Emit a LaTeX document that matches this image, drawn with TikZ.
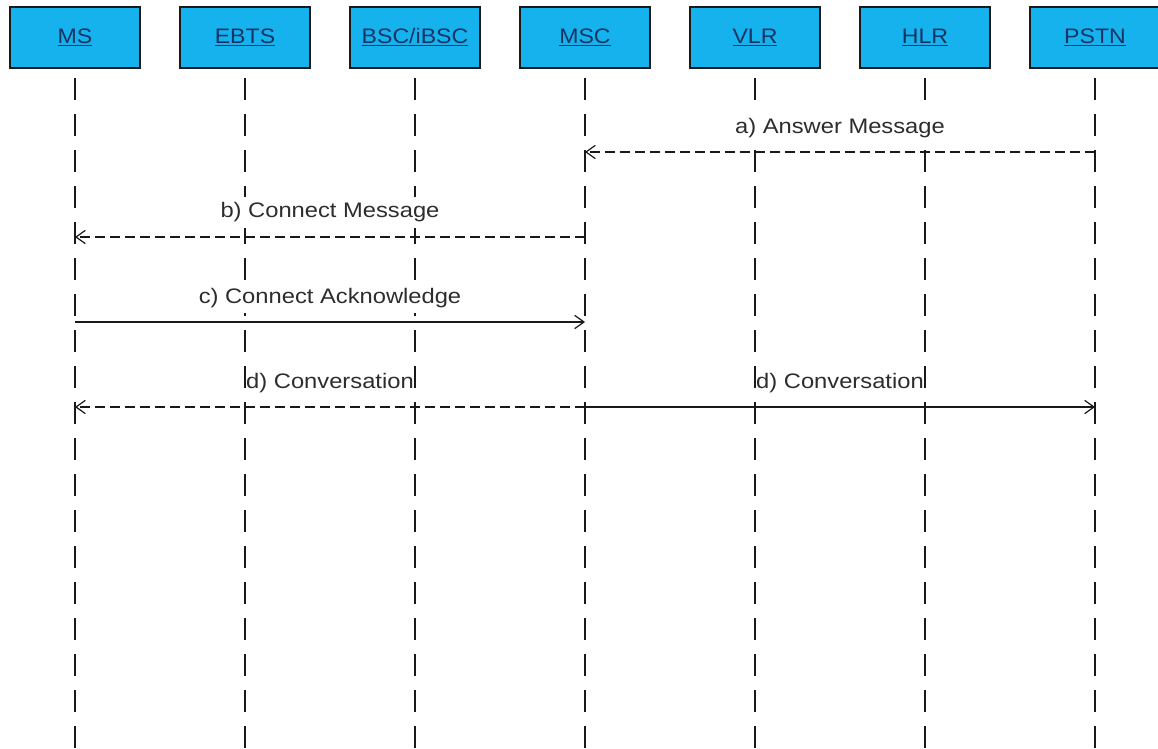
\documentclass[tikz,border=0pt]{standalone}
\usepackage{fontspec}
\usetikzlibrary{arrows.meta}
\newfontfamily\headfont{Liberation Sans}[FakeStretch=1.1]
\newfontfamily\msgfont{Liberation Sans}[FakeStretch=1.13]
\definecolor{headfill}{RGB}{22,178,238}
\definecolor{headtext}{RGB}{24,52,100}
\definecolor{msgtext}{RGB}{45,45,45}
\definecolor{lifeink}{RGB}{25,25,25}
\tikzset{
  actor/.style={draw=black!90, line width=1.8pt, fill=headfill,
    minimum width=97.5pt, minimum height=45.75pt, inner sep=0pt,
    font=\headfont\fontsize{15.75}{18}\selectfont, text=headtext},
  lifeline/.style={draw=lifeink, line width=1.6pt, dash pattern=on 16.5pt off 10.5pt},
  msg/.style={draw=lifeink, line width=0.95pt, -{Straight Barb[length=7pt,width=10pt,line width=0.9pt]}},
  reply/.style={msg, dash pattern=on 7.5pt off 3.75pt},
  msglabel/.style={anchor=base, fill=white, inner xsep=0pt, inner ysep=4.5pt,
    text=msgtext, yshift=14.25pt,
    font=\msgfont\fontsize{15.75}{18}\selectfont}
}
\begin{document}
\begin{tikzpicture}[x=0.75pt,y=-0.75pt]
\useasboundingbox (0,0) rectangle (1158,749);
% participants with their lifelines
\foreach \name/\lbl [count=\i from 0] in {MS/MS,EBTS/EBTS,BSC/{BSC/iBSC},MSC/MSC,VLR/VLR,HLR/HLR,PSTN/PSTN}{
  \node[actor] (\name) at (75+170*\i,37.5) {\underline{\lbl}};
  \coordinate (\name-top) at (75+170*\i,78);
  \coordinate (\name-bot) at (75+170*\i,749);
  \draw[lifeline] (\name-top) -- (\name-bot);
  \foreach \r/\yy in {a/152,b/237,c/322,d/407}
    \coordinate (\name-\r) at (75+170*\i,\yy);
}
% a) answer message
\draw[reply] (PSTN-a) -- (MSC-a);
\path (MSC-a) -- node[msglabel] {a) Answer Message} (PSTN-a);
% b) connect message
\draw[reply] (MSC-b) -- (MS-b);
\path (MS-b) -- node[msglabel] {b) Connect Message} (MSC-b);
% c) connect acknowledge
\draw[msg] (MS-c) -- (MSC-c);
\path (MS-c) -- node[msglabel] {c) Connect Acknowledge} (MSC-c);
% d) conversation, both legs
\draw[reply] (MSC-d) -- (MS-d);
\draw[msg] (MSC-d) -- (PSTN-d);
\path (MS-d) -- node[msglabel] {d) Conversation} (MSC-d);
\path (MSC-d) -- node[msglabel] {d) Conversation} (PSTN-d);
\end{tikzpicture}
\end{document}
